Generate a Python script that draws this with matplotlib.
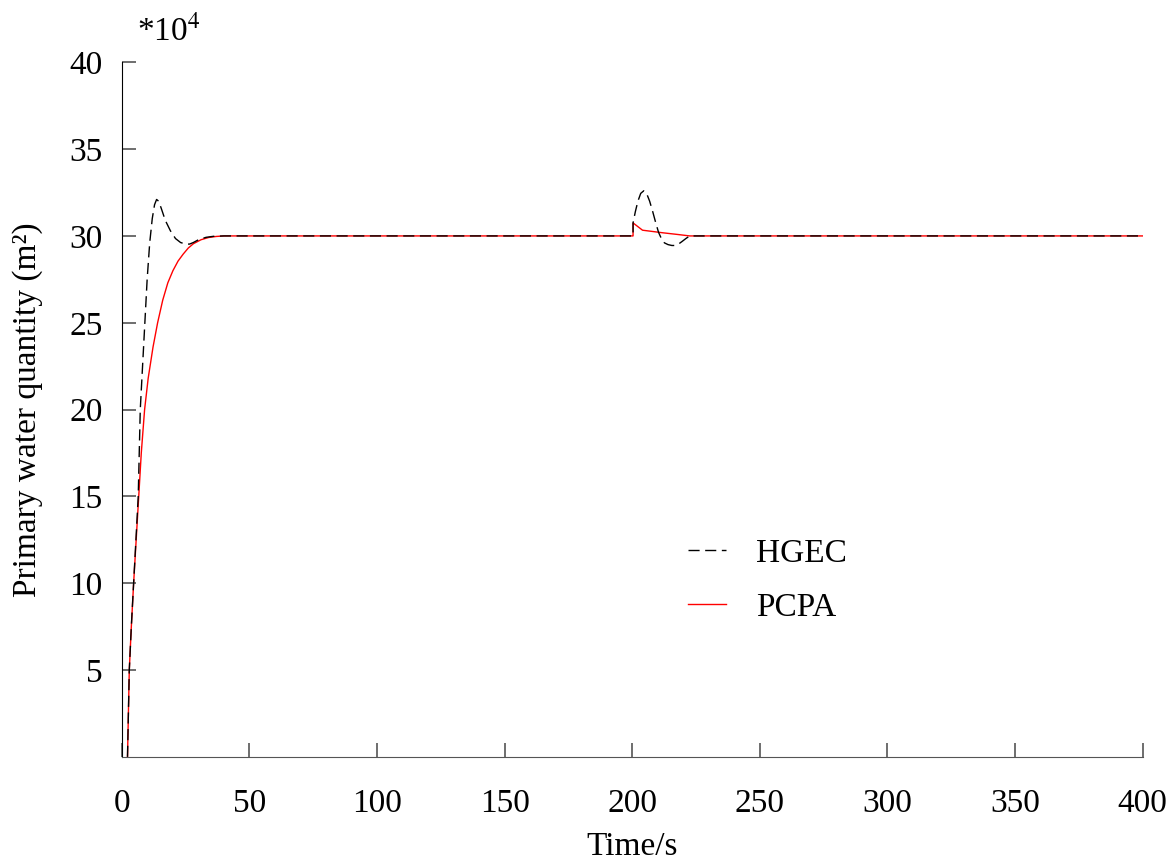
import matplotlib
matplotlib.use("Agg")
import matplotlib.pyplot as plt

plt.rcParams['font.family'] = ['Liberation Serif', 'DejaVu Serif']
plt.rcParams['mathtext.fontset'] = 'stix'

# HGEC response (time in s, value in 1e4 m^2)
hgec_t = [2.2, 2.9, 3.7, 4.6, 5.5, 6.4, 6.8, 7.2, 8.1, 9.0, 9.9, 10.9, 11.9, 12.8,
          13.6, 14.4, 15.4, 17, 19, 21, 23, 25, 26.5, 28, 30, 33, 36, 40,
          200.3, 200.3, 201.2, 202.2, 203.3, 204.5, 205.6, 206.8, 208, 209.2,
          210.3, 211.4, 212.6, 214, 215.5, 216.7, 218, 219.5, 221, 222.5, 400]
hgec_v = [0, 5, 7.5, 10, 12.5, 15, 17.5, 20, 22.5, 25, 27.5, 29.6, 31.0, 31.8,
          32.1, 32.0, 31.6, 30.9, 30.3, 29.85, 29.62, 29.53, 29.53, 29.62, 29.78,
          29.92, 29.98, 30,
          30, 30.75, 31.4, 32.0, 32.45, 32.6, 32.45, 32.0, 31.4, 30.75,
          30.2, 29.85, 29.6, 29.5, 29.45, 29.45, 29.52, 29.68, 29.85, 30, 30]

# PCPA response
pcpa_t = [2.2, 2.9, 3.7, 4.6, 5.6, 6.6, 7.6, 8.9, 10.3, 12.2, 14, 16, 18, 20,
          22, 24, 26, 28, 31, 34, 37, 40,
          200.3, 200.3, 204, 212, 218, 222.5, 400]
pcpa_v = [0, 5, 7.5, 10, 12.5, 15, 17.5, 20, 21.8, 23.6, 25, 26.3, 27.3, 28.0,
          28.55, 28.95, 29.3, 29.55, 29.78, 29.91, 29.97, 30,
          30, 30.75, 30.33, 30.18, 30.08, 30, 30]

fig = plt.figure(figsize=(11.72, 8.65), dpi=100)
ax = fig.add_axes([0.104, 0.125, 0.871, 0.803])

ax.plot(hgec_t, hgec_v, color='black', linestyle=(0, (8, 4)), linewidth=1.0, label='HGEC')
ax.plot(pcpa_t, pcpa_v, color='red', linewidth=1.0, label='PCPA', zorder=1)

ax.set_xlim(0, 400)
ax.set_ylim(0, 40)
ax.set_xticks(range(0, 401, 50))
ax.set_yticks(range(5, 41, 5))
ax.tick_params(direction='in', length=10, width=1.2, colors='#555555',
               labelcolor='black', labelsize=24)
ax.tick_params(axis='x', pad=23)
ax.tick_params(axis='y', pad=14)

ax.spines['top'].set_visible(False)
ax.spines['right'].set_visible(False)
ax.spines['left'].set_color('black')
ax.spines['bottom'].set_color('#555555')

ax.set_xlabel('Time/s', fontsize=24, labelpad=9)
ax.set_ylabel('Primary water quantity (m²)', fontsize=24, labelpad=19)
fig.text(0.117, 0.945, r'*10$^4$', fontsize=24, ha='left', va='bottom')

ax.legend(loc='upper left', bbox_to_anchor=(0.525, 0.358), frameon=False,
          fontsize=24, handlelength=1.15, handletextpad=0.9, labelspacing=0.7)

fig.savefig('out.png', dpi=100)
